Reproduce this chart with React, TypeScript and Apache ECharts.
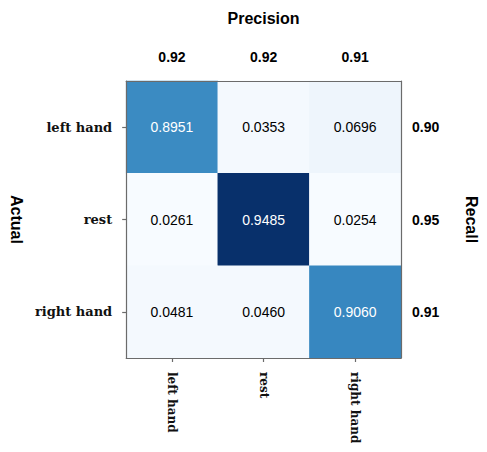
import React, { useEffect, useRef } from "react";
import * as echarts from "echarts";

const classes = ["left hand", "rest", "right hand"];
// rows = actual, cols = predicted
const matrix = [
  [0.8951, 0.0353, 0.0696],
  [0.0261, 0.9485, 0.0254],
  [0.0481, 0.046, 0.906],
];
const precision = [0.92, 0.92, 0.91];
const recall = [0.9, 0.95, 0.91];

// styling (not data): colour bands of the Blues-like shading
const shadePieces = [
  { lt: 0.03, color: "#f7fbff" },
  { gte: 0.03, lt: 0.06, color: "#f4f9fe" },
  { gte: 0.06, lt: 0.5, color: "#eef5fc" },
  { gte: 0.5, lt: 0.9, color: "#3b8bc2" },
  { gte: 0.9, lt: 0.93, color: "#3787c0" },
  { gte: 0.93, color: "#08306b" },
];
const serif = "DejaVu Serif";
const sans = "Liberation Sans, Arial, sans-serif";

export default function App() {
  const ref = useRef<HTMLDivElement>(null);
  useEffect(() => {
    document.body.style.margin = "0";
    const chart = echarts.init(ref.current!, null, { renderer: "svg" });
    const data: any[] = [];
    matrix.forEach((row, r) =>
      row.forEach((v, c) => {
        data.push({
          value: [c, r, v],
          label: { color: v > 0.5 ? "#ffffff" : "#000000" },
        });
      })
    );
    const lineStyle = { color: "#6b6b6b", width: 1.2 };
    chart.setOption({
      animation: false,
      backgroundColor: "#ffffff",
      visualMap: {
        type: "piecewise",
        show: false,
        dimension: 2,
        seriesIndex: 0,
        pieces: shadePieces,
      },
      grid: { left: 126, top: 81, width: 278, height: 277, containLabel: false },
      xAxis: [
        {
          type: "category",
          data: classes,
          position: "bottom",
          z: 5,
          axisLine: { show: true, lineStyle },
          axisTick: { show: true, alignWithLabel: true, length: 4, lineStyle },
          axisLabel: {
            rotate: -90,
            margin: 14,
            fontFamily: serif,
            fontWeight: "bold",
            fontSize: 12,
            color: "#111",
          },
          splitLine: { show: false },
        },
        {
          type: "category",
          data: classes,
          position: "top",
          z: 5,
          name: "Precision",
          nameLocation: "middle",
          nameGap: 55,
          nameTextStyle: { fontFamily: sans, fontWeight: "bold", fontSize: 16, color: "#000" },
          axisLine: { show: true, lineStyle },
          axisTick: { show: false },
          axisLabel: {
            margin: 17,
            fontFamily: sans,
            fontWeight: "bold",
            fontSize: 14,
            color: "#000",
            formatter: (_v: string, i: number) => precision[i].toFixed(2),
          },
        },
      ],
      yAxis: [
        {
          type: "category",
          data: classes,
          inverse: true,
          position: "left",
          z: 5,
          name: "Actual",
          nameLocation: "middle",
          nameRotate: -90,
          nameGap: 90,
          nameTextStyle: { fontFamily: sans, fontWeight: "bold", fontSize: 16, color: "#000" },
          axisLine: { show: true, lineStyle },
          axisTick: { show: true, alignWithLabel: true, length: 4, lineStyle },
          axisLabel: {
            margin: 14,
            fontFamily: serif,
            fontWeight: "bold",
            fontSize: 13,
            color: "#111",
          },
        },
        {
          type: "category",
          data: classes,
          inverse: true,
          position: "right",
          z: 5,
          name: "Recall",
          nameLocation: "middle",
          nameRotate: -90,
          nameGap: 62,
          nameTextStyle: { fontFamily: sans, fontWeight: "bold", fontSize: 16, color: "#000" },
          axisLine: { show: true, lineStyle },
          axisTick: { show: false },
          axisLabel: {
            margin: 11,
            fontFamily: sans,
            fontWeight: "bold",
            fontSize: 14,
            color: "#000",
            formatter: (_v: string, i: number) => recall[i].toFixed(2),
          },
        },
      ],
      series: [
        {
          type: "heatmap",
          xAxisIndex: 0,
          yAxisIndex: 0,
          data,
          label: {
            show: true,
            fontFamily: sans,
            fontSize: 14,
            formatter: (p: any) => p.value[2].toFixed(4),
          },
          emphasis: { disabled: true },
        },
      ],
    });
    return () => chart.dispose();
  }, []);
  return <div ref={ref} style={{ width: 487, height: 452 }} />;
}
